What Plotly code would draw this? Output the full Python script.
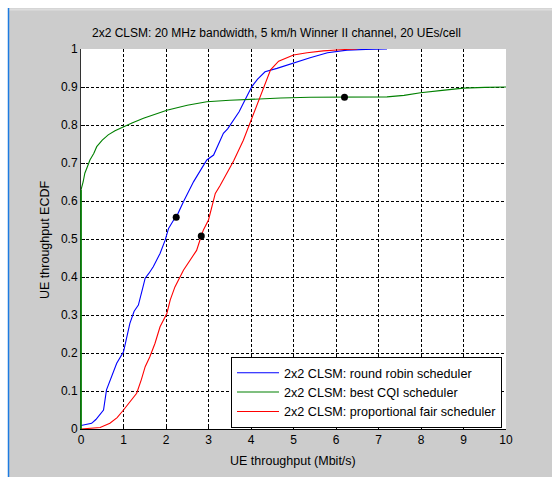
import plotly.graph_objects as go

# ---------------- data ----------------
rr_x = [0, 0.25, 0.35, 0.45, 0.53, 0.6, 0.72, 0.84, 1.0, 1.08, 1.15, 1.25, 1.35, 1.45, 1.51, 1.6, 1.70,
        1.86, 1.98, 2.06, 2.18, 2.24, 2.41, 2.65, 2.96, 3.12, 3.35, 3.45, 3.59, 3.72, 3.82, 4.02, 4.15,
        4.33, 4.61, 5.0, 5.39, 5.8, 6.26, 6.7, 7.2]
rr_y = [0.009, 0.015, 0.025, 0.04, 0.05, 0.103, 0.14, 0.173, 0.203, 0.24, 0.278, 0.31, 0.326, 0.37, 0.397,
        0.41, 0.427, 0.462, 0.497, 0.528, 0.55, 0.557, 0.598, 0.651, 0.708, 0.721, 0.778, 0.79, 0.815,
        0.835, 0.857, 0.901, 0.92, 0.94, 0.949, 0.964, 0.977, 0.99, 0.997, 0.999, 1.0]

cqi_x = [0, 0, 0.05, 0.09, 0.15, 0.21, 0.3, 0.37, 0.5, 0.64, 0.8, 1.0, 1.2, 1.47, 1.75, 2.02, 2.5, 2.96,
         3.5, 3.98, 4.7, 5.39, 6.2, 7.2, 7.6, 7.99, 8.5, 9.0, 9.5, 10]
cqi_y = [0, 0.629, 0.65, 0.673, 0.69, 0.708, 0.725, 0.743, 0.76, 0.774, 0.785, 0.796, 0.805, 0.818, 0.828,
         0.839, 0.852, 0.861, 0.865, 0.868, 0.871, 0.873, 0.874, 0.874, 0.878, 0.885, 0.891, 0.897, 0.899, 0.90]

pf_x = [0, 0.45, 0.68, 0.85, 1.0, 1.15, 1.31, 1.42, 1.51, 1.62, 1.74, 1.86, 2.02, 2.1, 2.21, 2.41, 2.61,
        2.72, 2.83, 2.88, 3.0, 3.16, 3.27, 3.43, 3.59, 3.82, 3.98, 4.1, 4.22, 4.35, 4.46, 4.65, 5.0, 5.32,
        5.7, 6.1, 6.5]
pf_y = [0, 0.004, 0.015, 0.03, 0.05, 0.07, 0.094, 0.13, 0.164, 0.19, 0.225, 0.269, 0.304, 0.34, 0.374,
        0.418, 0.453, 0.47, 0.508, 0.524, 0.55, 0.62, 0.64, 0.673, 0.705, 0.76, 0.805, 0.84, 0.874, 0.91,
        0.945, 0.968, 0.984, 0.99, 0.995, 0.998, 1.0]

mean_x = [2.24, 2.83, 6.2]
mean_y = [0.557, 0.508, 0.873]

series_names = ["2x2 CLSM: round robin scheduler",
                "2x2 CLSM: best CQI scheduler",
                "2x2 CLSM: proportional fair scheduler"]
series_colors = ["#0000ff", "#008000", "#ff0000"]

x_ticks = list(range(0, 11))
y_ticks = [i / 10 for i in range(0, 11)]
y_tick_text = ["0"] + ["0.%d" % i for i in range(1, 10)] + ["1"]

title_text = "2x2 CLSM: 20 MHz bandwidth, 5 km/h Winner II channel, 20 UEs/cell"
x_label = "UE throughput (Mbit/s)"
y_label = "UE throughput ECDF"

# ---------------- layout geometry (pixels) ----------------
W, H = 552, 477
L, R, T, B = 81, 506, 49, 429
pw, ph = R - L, B - T


def px2x(px):
    return (px - L) / pw


def px2y(py):
    return (B - py) / ph


FONT = "Liberation Sans, Arial, sans-serif"

fig = go.Figure()
for xs, ys, name, col in zip([rr_x, cqi_x, pf_x], [rr_y, cqi_y, pf_y], series_names, series_colors):
    fig.add_trace(go.Scatter(x=xs, y=ys, mode="lines", name=name,
                             line=dict(color=col, width=1.1)))

fig.add_trace(go.Scatter(x=mean_x, y=mean_y, mode="markers", showlegend=False,
                         marker=dict(color="black", size=7)))

fig.update_layout(
    width=W, height=H,
    margin=dict(l=L, r=W - R, t=T, b=H - B),
    paper_bgcolor="#cccccc", plot_bgcolor="white",
    font=dict(family=FONT, size=12, color="black"),
    showlegend=True,
    legend=dict(x=px2x(231), y=px2y(357), xanchor="left", yanchor="top",
                bgcolor="white", bordercolor="black", borderwidth=1,
                font=dict(family=FONT, size=12.6, color="black"),
                itemwidth=42, tracegroupgap=0),
    xaxis=dict(range=[0, 10], tickmode="array", tickvals=x_ticks,
               ticktext=[str(v) for v in x_ticks],
               showgrid=True, gridcolor="black", griddash="3px,2px", gridwidth=1,
               zeroline=False, showline=True, linecolor="black", linewidth=1,
               ticks="inside", ticklen=4, tickcolor="black", layer="below traces",
               tickfont=dict(family=FONT, size=12, color="black")),
    yaxis=dict(range=[0, 1], tickmode="array", tickvals=y_ticks, ticktext=y_tick_text,
               showgrid=True, gridcolor="black", griddash="3px,2px", gridwidth=1,
               zeroline=False, showline=True, linecolor="#333333", linewidth=1,
               ticks="inside", ticklen=4, tickcolor="black", layer="below traces",
               tickfont=dict(family=FONT, size=12, color="black")),
)

# the vertical start of the best-CQI ECDF lies on the left axis; draw it unclipped
# (paper coordinates coincide with data coordinates here: x range [0,10] -> x=0, y range [0,1])
fig.add_shape(type="line", xref="paper", yref="paper",
              x0=cqi_x[0], x1=cqi_x[1], y0=cqi_y[0], y1=cqi_y[1],
              line=dict(color=series_colors[1], width=1.5), layer="above")

# titles as annotations
fig.add_annotation(text=title_text, xref="paper", yref="paper", x=px2x(276), y=px2y(33),
                   xanchor="center", yanchor="middle", showarrow=False,
                   font=dict(family=FONT, size=12, color="black"))
fig.add_annotation(text=x_label, xref="paper", yref="paper", x=px2x(293), y=px2y(461),
                   xanchor="center", yanchor="middle", showarrow=False,
                   font=dict(family=FONT, size=12.5, color="black"))
fig.add_annotation(text=y_label, xref="paper", yref="paper", x=px2x(45), y=px2y(240),
                   xanchor="center", yanchor="middle", showarrow=False, textangle=-90,
                   font=dict(family=FONT, size=12.5, color="black"))

# window frame decorations
fig.add_shape(type="rect", xref="paper", yref="paper", x0=px2x(0), x1=px2x(W), y0=px2y(0), y1=px2y(8),
              fillcolor="white", line=dict(width=0), layer="above")
fig.add_shape(type="rect", xref="paper", yref="paper", x0=px2x(0), x1=px2x(8), y0=px2y(0), y1=px2y(H),
              fillcolor="white", line=dict(width=0), layer="above")
fig.add_shape(type="line", xref="paper", yref="paper", x0=px2x(8), x1=px2x(W), y0=px2y(9.5), y1=px2y(9.5),
              line=dict(color="#dddddd", width=2), layer="above")
fig.add_shape(type="line", xref="paper", yref="paper", x0=px2x(8.5), x1=px2x(8.5), y0=px2y(8), y1=px2y(H),
              line=dict(color="#1e7be0", width=1.5), layer="above")

fig.write_html("out.html")
